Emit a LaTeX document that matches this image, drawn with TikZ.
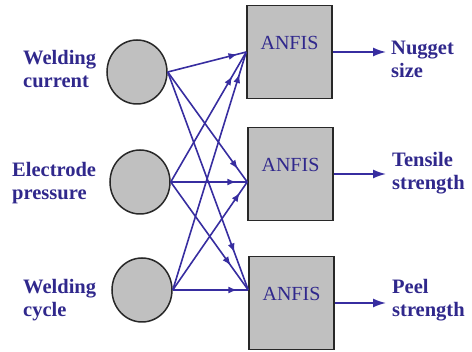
\documentclass[tikz,border=0pt]{standalone}
\usepackage{fontspec}
\setmainfont{Liberation Serif}
\usetikzlibrary{arrows.meta,decorations.markings,shapes.geometric}
\definecolor{labelblue}{RGB}{48,40,140}
\definecolor{wireblue}{RGB}{55,45,160}
\definecolor{boxgray}{RGB}{192,192,192}
\definecolor{edgegray}{RGB}{40,40,40}
\tikzset{
  inputnode/.style={ellipse, draw=edgegray, line width=1.5pt, fill=boxgray,
    minimum width=60pt, minimum height=64pt, inner sep=0pt},
  anfisbox/.style={rectangle, draw=edgegray, line width=1.5pt, fill=boxgray,
    minimum width=85pt, minimum height=93pt, inner sep=0pt, text=labelblue,
    font=\fontsize{20}{24}\selectfont, text height=14pt, text depth=18pt},
  varlabel/.style={align=left, text=labelblue,
    font=\fontsize{20.5}{23}\selectfont\bfseries, inner sep=0pt, anchor=base west},
  wire/.style={draw=wireblue, line width=1.6pt},
  midtip/.style={postaction={decorate}, decoration={markings,
    mark=at position -#1 with {\arrow[color=wireblue]{Latex[length=9pt,width=7pt]}}}},
  outwire/.style={wire, -{Latex[length=13pt,width=9pt]}}
}
\begin{document}
\begin{tikzpicture}[x=1pt, y=-1pt]
\useasboundingbox (0,0) rectangle (472,352);

% input membership nodes
\node[inputnode] (c1) at (137,72) {};
\node[inputnode] (c2) at (140,182) {};
\node[inputnode] (c3) at (142,290) {};

% ANFIS blocks
\node[anfisbox] (b1) at (289.5,52) {ANFIS};
\node[anfisbox] (b2) at (290.5,174) {ANFIS};
\node[anfisbox] (b3) at (291.5,303) {ANFIS};

% points where the inputs meet each block
\coordinate (p1) at (b1.west);
\coordinate (p2) at (b2.west |- c2.east);
\coordinate (p3) at (b3.west |- c3.east);

% input labels (placed by the baseline of their second line)
\node[varlabel] (l1) at (23,88) {Welding\\current};
\node[varlabel] (l2) at (12,200) {Electrode\\pressure};
\node[varlabel] (l3) at (23,317) {Welding\\cycle};

% output labels
\node[varlabel] (r1) at (391,78) {Nugget\\size};
\node[varlabel] (r2) at (392,190) {Tensile\\strength};
\node[varlabel] (r3) at (392,317) {Peel\\strength};

% every input feeds every block
\draw[wire, midtip=9pt]  (c1.east) -- (p1);
\draw[wire, midtip=28pt] (c2.east) -- (p1);
\draw[wire, midtip=23pt] (c3.east) -- (p1);
\draw[wire, midtip=16pt] (c1.east) -- (p2);
\draw[wire, midtip=11pt] (c2.east) -- (p2);
\draw[wire, midtip=13pt] (c3.east) -- (p2);
\draw[wire, midtip=40pt] (c1.east) -- (p3);
\draw[wire, midtip=30pt] (c2.east) -- (p3);
\draw[wire, midtip=11pt] (c3.east) -- (p3);

% outputs
\coordinate (t1) at (b1.east -| r1.west);
\coordinate (t2) at (b2.east -| r2.west);
\coordinate (t3) at (b3.east -| r3.west);
\draw[outwire] (b1.east) -- ([xshift=-5pt]t1);
\draw[outwire] (b2.east) -- ([xshift=-6pt]t2);
\draw[outwire] (b3.east) -- ([xshift=-6pt]t3);
\end{tikzpicture}
\end{document}
